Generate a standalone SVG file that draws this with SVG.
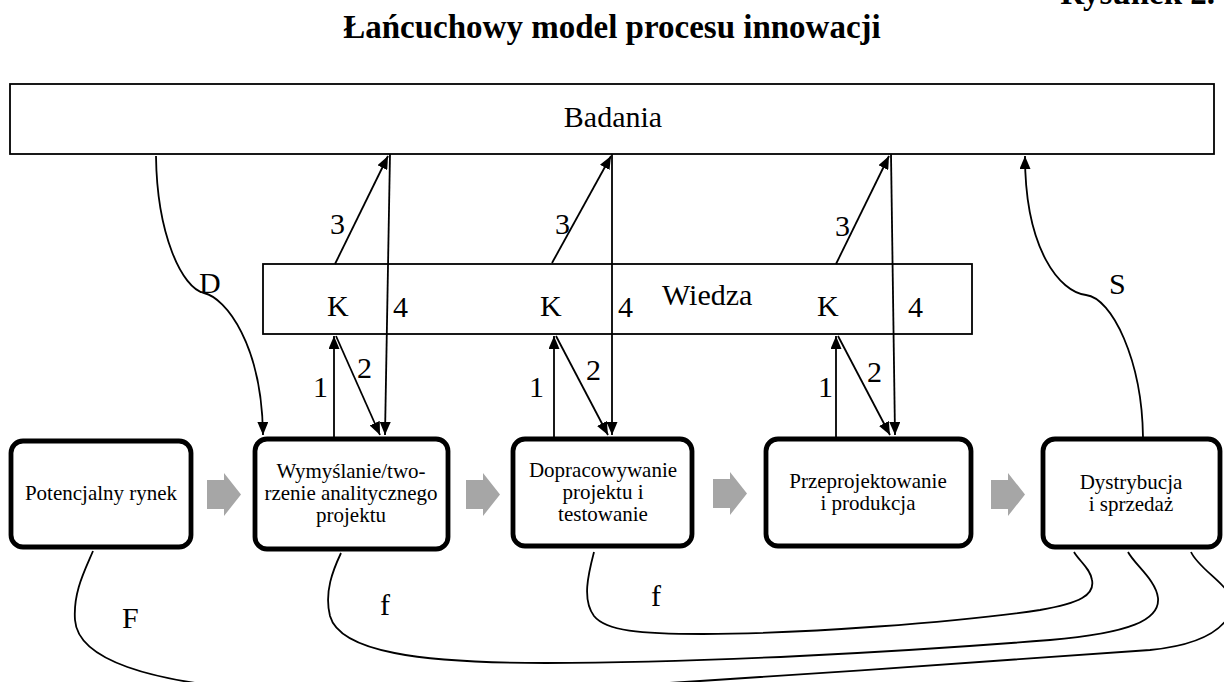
<svg xmlns="http://www.w3.org/2000/svg" width="1224" height="682" viewBox="0 0 1224 682">
  <style>
    .t { font-family: "Liberation Serif", "Times New Roman", serif; fill: #000; }
    .title { font-size: 33px; font-weight: bold; }
    .big { font-size: 30px; }
    .box-text { font-size: 21px; text-anchor: middle; }
    .band { fill: #fff; stroke: #000; stroke-width: 1.8; }
    .stage { fill: #fff; stroke: #000; stroke-width: 4.8; }
    .link { fill: none; stroke: #000; stroke-width: 1.8; }
    .flow { fill: #a6a6a6; }
  </style>
  <defs>
    <marker id="head" viewBox="0 0 13 11" markerWidth="13" markerHeight="11" refX="13" refY="5.5" orient="auto" markerUnits="userSpaceOnUse">
      <path d="M0,0 L13,5.5 L0,11 Z" fill="#000"/>
    </marker>
    <path id="block-arrow" d="M0,7 H17 V0 L34,21.5 L17,43 V36 H0 Z"/>
  </defs>

  <rect width="1224" height="682" fill="#fff"/>

  <!-- headings -->
  <text class="t title" x="1215" y="4" text-anchor="end">Rysunek 2.</text>
  <text class="t title" x="612" y="38" text-anchor="middle">Łańcuchowy model procesu innowacji</text>

  <!-- research band -->
  <g id="badania">
    <rect class="band" x="10" y="84" width="1204" height="70"/>
    <text class="t big" x="613" y="127" text-anchor="middle">Badania</text>
  </g>

  <!-- knowledge band -->
  <g id="wiedza">
    <rect class="band" x="263" y="264" width="709" height="70"/>
    <text class="t big" x="662" y="305">Wiedza</text>
    <text class="t big" x="327" y="316">K</text>
    <text class="t big" x="540" y="316">K</text>
    <text class="t big" x="817" y="316">K</text>
  </g>

  <!-- chain stages -->
  <g id="potencjalny-rynek">
    <rect class="stage" x="11" y="441" width="180" height="106" rx="12"/>
    <text class="t box-text" x="101" y="500">Potencjalny rynek</text>
  </g>
  <g id="wymyslanie">
    <rect class="stage" x="255" y="439" width="193" height="110" rx="12"/>
    <text class="t box-text" x="351" y="478">Wymyślanie/two-</text>
    <text class="t box-text" x="351" y="500">rzenie analitycznego</text>
    <text class="t box-text" x="351" y="522">projektu</text>
  </g>
  <g id="dopracowywanie">
    <rect class="stage" x="513" y="439" width="179" height="107" rx="12"/>
    <text class="t box-text" x="603" y="477">Dopracowywanie</text>
    <text class="t box-text" x="603" y="499">projektu i</text>
    <text class="t box-text" x="603" y="521">testowanie</text>
  </g>
  <g id="przeprojektowanie">
    <rect class="stage" x="766" y="439" width="205" height="107" rx="12"/>
    <text class="t box-text" x="868" y="488">Przeprojektowanie</text>
    <text class="t box-text" x="868" y="510">i produkcja</text>
  </g>
  <g id="dystrybucja">
    <rect class="stage" x="1043" y="439" width="177" height="108" rx="12"/>
    <text class="t box-text" x="1131" y="489">Dystrybucja</text>
    <text class="t box-text" x="1131" y="511">i sprzedaż</text>
  </g>

  <!-- connectors -->
  <g id="connectors">
    <!-- main chain -->
    <use href="#block-arrow" class="flow" x="207" y="473"/>
    <use href="#block-arrow" class="flow" x="466" y="473"/>
    <use href="#block-arrow" class="flow" x="713" y="472"/>
    <use href="#block-arrow" class="flow" x="991" y="473"/>

    <!-- stage to knowledge (1), knowledge to stage (2) -->
    <line class="link" x1="334" y1="437" x2="334" y2="336" marker-end="url(#head)"/>
    <line class="link" x1="554" y1="437" x2="554" y2="336" marker-end="url(#head)"/>
    <line class="link" x1="836" y1="437" x2="836" y2="336" marker-end="url(#head)"/>
    <line class="link" x1="336" y1="336" x2="380" y2="435" marker-end="url(#head)"/>
    <line class="link" x1="556" y1="336" x2="608" y2="435" marker-end="url(#head)"/>
    <line class="link" x1="838" y1="336" x2="890" y2="435" marker-end="url(#head)"/>

    <!-- knowledge to research (3), research to stage (4) -->
    <line class="link" x1="335" y1="264" x2="388" y2="156" marker-end="url(#head)"/>
    <line class="link" x1="552" y1="263" x2="611" y2="156" marker-end="url(#head)"/>
    <line class="link" x1="836" y1="264" x2="889" y2="156" marker-end="url(#head)"/>
    <line class="link" x1="390" y1="154" x2="385" y2="435" marker-end="url(#head)"/>
    <line class="link" x1="612" y1="154" x2="612" y2="435" marker-end="url(#head)"/>
    <line class="link" x1="891" y1="154" x2="895" y2="435" marker-end="url(#head)"/>

    <!-- D: research to invention -->
    <path class="link" d="M156,156 C157,235 182,288 204,293 C226,298 262,345 263,435" marker-end="url(#head)"/>
    <!-- S: sales to research -->
    <path class="link" d="M1143,437 C1142,360 1112,298 1086,295 C1060,292 1025,250 1025,156" marker-end="url(#head)"/>

    <!-- feedback loops -->
    <path class="link" d="M594,552 C588,575 582,600 594,616 C606,631 640,634 703,634 C800,634 960,622 1040,610 C1080,603 1095,595 1092,580 C1090,568 1080,562 1074,552"/>
    <path class="link" d="M341,553 C333,570 324,592 330,616 C340,652 420,663 546,663 C700,663 900,652 1050,640 C1130,633 1160,620 1158,598 C1156,580 1135,565 1128,552"/>
    <path class="link" d="M93,551 C85,570 73,592 75,620 C78,660 150,682 260,690 C380,698 560,690 700,681 C850,671 1050,658 1150,650 C1200,645 1224,630 1232,610 C1240,590 1200,572 1191,552"/>

    <!-- link labels -->
    <text class="t big" x="313" y="397">1</text>
    <text class="t big" x="529" y="397">1</text>
    <text class="t big" x="818" y="397">1</text>
    <text class="t big" x="357" y="378">2</text>
    <text class="t big" x="586" y="380">2</text>
    <text class="t big" x="867" y="382">2</text>
    <text class="t big" x="330" y="234">3</text>
    <text class="t big" x="555" y="234">3</text>
    <text class="t big" x="835" y="236">3</text>
    <text class="t big" x="393" y="317">4</text>
    <text class="t big" x="618" y="317">4</text>
    <text class="t big" x="908" y="317">4</text>
    <text class="t big" x="199" y="293">D</text>
    <text class="t big" x="1109" y="294">S</text>
    <text class="t big" x="122" y="628">F</text>
    <text class="t big" x="380" y="615">f</text>
    <text class="t big" x="651" y="606">f</text>
  </g>
</svg>
